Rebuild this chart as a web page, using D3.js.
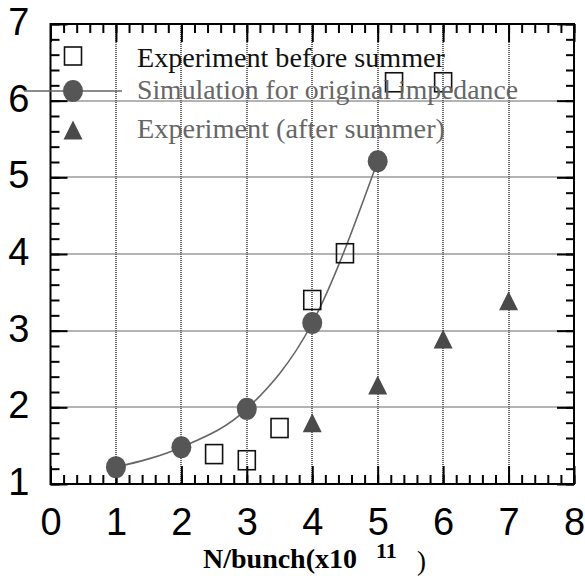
<!DOCTYPE html>
<html>
<head>
<meta charset="utf-8">
<script src="https://cdn.jsdelivr.net/npm/d3@7/dist/d3.min.js"></script>
<style>
  body { margin: 0; background: #fff; }
  .ticklab text { font-family: "Liberation Sans", Arial, sans-serif; font-size: 38px; fill: #000; }
  .serif { font-family: "Liberation Serif", "Times New Roman", serif; }
</style>
</head>
<body>
<svg id="chart"></svg>
<script>
// values

const beforeX = [2.5, 3.0, 3.5, 4.0, 4.5, 5.25, 6.0],
    beforeY = [1.39, 1.31, 1.73, 3.40, 4.01, 6.24, 6.24];

const simX = [1, 2, 3, 4, 5],
    simY = [1.22, 1.48, 1.98, 3.10, 5.21];

const afterX = [4, 5, 6, 7],
    afterY = [1.80, 2.29, 2.89, 3.39];

const xTicks = [0, 1, 2, 3, 4, 5, 6, 7, 8],
    yTicks = [1, 2, 3, 4, 5, 6, 7];

const legendLabels = ['Experiment before summer',
    'Simulation for original impedance',
    'Experiment (after summer)'];

/* SETUP */

const width = 585,
    height = 578;

const x = d3.scaleLinear().domain([0, 8]).range([50.5, 574]),
    y = d3.scaleLinear().domain([1, 7]).range([484, 24]);

const svg = d3.select('#chart')
    .attr('width', width)
    .attr('height', height);

const x0 = x.range()[0], x1 = x.range()[1],
    yb = y.range()[0], yt = y.range()[1];

// dotted grid (snapped to whole pixels so the dots stay crisp)
let grid = svg.append('g').attr('class', 'grid');

grid.selectAll('line.v')
    .data(xTicks.slice(1, -1))
    .enter().append('line')
    .attr('x1', d => Math.round(x(d))).attr('x2', d => Math.round(x(d)))
    .attr('y1', yt).attr('y2', yb);

grid.selectAll('line.h')
    .data(yTicks.slice(1, -1))
    .enter().append('line')
    .attr('y1', d => Math.round(y(d))).attr('y2', d => Math.round(y(d)))
    .attr('x1', x0).attr('x2', x1);

grid.selectAll('line')
    .attr('stroke', '#666')
    .attr('stroke-width', 2)
    .attr('stroke-dasharray', '1,1');

/* TICKS (all pointing inward) */

const minorX = d3.range(0, 8.001, 0.2),
    minorY = d3.range(1, 7.001, 0.2);

function tickAxis(axis, tr) {
    let g = svg.append('g').attr('transform', tr).call(axis);
    g.select('.domain').remove();
    g.selectAll('text').remove();
    g.selectAll('line').attr('stroke', '#000').attr('stroke-width', 2);
    return g;
}

tickAxis(d3.axisBottom(x).tickValues(minorX).tickSize(-9), `translate(0,${yb})`);
tickAxis(d3.axisBottom(x).tickValues(xTicks).tickSize(-18), `translate(0,${yb})`);
tickAxis(d3.axisTop(x).tickValues(minorX).tickSize(-9), `translate(0,${yt})`);
tickAxis(d3.axisTop(x).tickValues(xTicks).tickSize(-18), `translate(0,${yt})`);
tickAxis(d3.axisLeft(y).tickValues(minorY).tickSize(-9), `translate(${x0},0)`);
tickAxis(d3.axisLeft(y).tickValues(yTicks).tickSize(-17), `translate(${x0},0)`);
tickAxis(d3.axisRight(y).tickValues(minorY).tickSize(-8), `translate(${x1},0)`);
tickAxis(d3.axisRight(y).tickValues(yTicks).tickSize(-17), `translate(${x1},0)`);

// frame
svg.append('rect')
    .attr('x', x0).attr('y', yt)
    .attr('width', x1 - x0).attr('height', yb - yt)
    .attr('fill', 'none')
    .attr('stroke', '#000')
    .attr('stroke-width', 2);

// tick labels
let xLab = svg.append('g')
    .attr('class', 'ticklab')
    .attr('transform', `translate(0,${yb})`)
    .call(d3.axisBottom(x).tickValues(xTicks).tickSize(0).tickPadding(24).tickFormat(d3.format('d')));
xLab.select('.domain').remove();

let yLab = svg.append('g')
    .attr('class', 'ticklab')
    .attr('transform', `translate(${x0},0)`)
    .call(d3.axisLeft(y).tickValues(yTicks).tickSize(0).tickPadding(21).tickFormat(d3.format('d')));
yLab.select('.domain').remove();
yLab.selectAll('text').attr('dy', '0.28em');

/* MARKS */

const simPts = simX.map((d, i) => [d, simY[i]]),
    beforePts = beforeX.map((d, i) => [d, beforeY[i]]),
    afterPts = afterX.map((d, i) => [d, afterY[i]]);

let line = d3.line()
    .x(d => x(d[0]))
    .y(d => y(d[1]))
    .curve(d3.curveMonotoneX);

svg.append('path')
    .datum(simPts)
    .attr('d', line)
    .attr('fill', 'none')
    .attr('stroke', '#666')
    .attr('stroke-width', 1.6);

svg.selectAll('ellipse.sim')
    .data(simPts)
    .enter().append('ellipse')
    .attr('class', 'sim')
    .attr('cx', d => x(d[0]))
    .attr('cy', d => y(d[1]))
    .attr('rx', 10)
    .attr('ry', 11)
    .attr('fill', '#565656');

svg.selectAll('rect.before')
    .data(beforePts)
    .enter().append('rect')
    .attr('class', 'before')
    .attr('x', d => x(d[0]) - 8.5)
    .attr('y', d => y(d[1]) - 9.5)
    .attr('width', 17)
    .attr('height', 19)
    .attr('fill', 'none')
    .attr('stroke', '#111')
    .attr('stroke-width', 1.6);

const tri = 'M0,-9.5L9.5,9.5L-9.5,9.5Z';

svg.selectAll('path.after')
    .data(afterPts)
    .enter().append('path')
    .attr('class', 'after')
    .attr('d', tri)
    .attr('transform', d => `translate(${x(d[0])},${y(d[1])})`)
    .attr('fill', '#4a4a4a');

/* LEGEND */

let legend = svg.append('g');

legend.append('rect')
    .attr('x', 64.5).attr('y', 47)
    .attr('width', 17).attr('height', 18)
    .attr('fill', 'none')
    .attr('stroke', '#111')
    .attr('stroke-width', 1.6);

legend.append('line')
    .attr('x1', 24).attr('x2', 122)
    .attr('y1', 91).attr('y2', 91)
    .attr('stroke', '#666')
    .attr('stroke-width', 1.6);

legend.append('ellipse')
    .attr('cx', 73).attr('cy', 91)
    .attr('rx', 10).attr('ry', 11)
    .attr('fill', '#565656');

legend.append('path')
    .attr('d', tri)
    .attr('transform', 'translate(73,130)')
    .attr('fill', '#4a4a4a');

const legBase = [67, 99, 138],
    legColor = ['#111', '#666', '#666'],
    legLen = [308, 381, 308];

legend.selectAll('text')
    .data(legendLabels)
    .enter().append('text')
    .attr('class', 'serif')
    .attr('x', 137)
    .attr('y', (d, i) => legBase[i])
    .attr('textLength', (d, i) => legLen[i])
    .attr('lengthAdjust', 'spacingAndGlyphs')
    .attr('font-size', 27)
    .attr('fill', (d, i) => legColor[i])
    .text(d => d);

/* AXIS TITLE */

let title = svg.append('text')
    .attr('class', 'serif')
    .attr('font-weight', 'bold')
    .attr('font-size', 27)
    .attr('fill', '#000');

title.append('tspan')
    .attr('x', 203).attr('y', 568)
    .attr('textLength', 154)
    .attr('lengthAdjust', 'spacingAndGlyphs')
    .text('N/bunch(x10');

title.append('tspan')
    .attr('x', 376).attr('y', 558)
    .attr('font-size', 22)
    .text('11');

title.append('tspan')
    .attr('x', 417).attr('y', 570)
    .attr('font-weight', 'normal')
    .text(')');
</script>
</body>
</html>
